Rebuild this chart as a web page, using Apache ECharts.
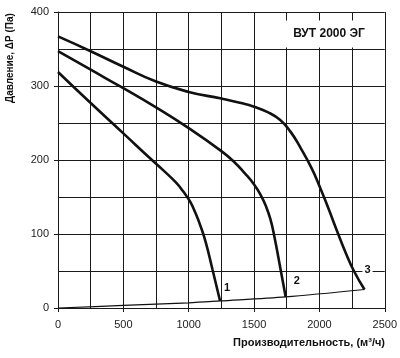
<!DOCTYPE html>
<html><head><meta charset="utf-8">
<script src="https://cdn.jsdelivr.net/npm/echarts/dist/echarts.min.js"></script>
<style>html,body{margin:0;padding:0;background:#fff}#c{width:400px;height:358px}</style>
</head><body><div id="c"></div>
<script>
const xTicks = [0, 500, 1000, 1500, 2000, 2500];
const yTicks = [0, 100, 200, 300, 400];
const xAxisTitle = 'Производительность, (м³/ч)';
const yAxisTitle = 'Давление, ΔP (Па)';
const boxTitle = 'ВУТ 2000 ЭГ';
const curveNames = ['1', '2', '3'];
const curve1 = [[0,319],[250,277],[500,236],[700,203],[800,187],[900,170],[960,157],[1010,144],[1050,129],[1090,111],[1130,89],[1182,52],[1240,9.5]];
const curve2 = [[0,347],[250,322],[500,297],[750,271],[1000,243],[1250,212],[1350,197],[1430,182],[1500,167],[1550,153],[1590,138],[1625,120],[1655,97],[1703,52],[1742,15]];
const curve3 = [[0,367],[250,347],[500,326],[750,306],[1000,292],[1250,283],[1400,277],[1500,272],[1600,265],[1700,254],[1780,238],[1860,215],[1940,189],[2000,165],[2070,134],[2137,103],[2200,75],[2264,50],[2345,25]];
const systemCurve = [[0,0],[500,3.5],[1000,7],[1240,9.5],[1742,15],[2345,25]];
const boxArea = [[1650, 352], [2497, 388.5]];

const curves = [curve1, curve2, curve3];
const labelOffsets = [[7, -13], [11, -16], [3, -20]];
const chart = echarts.init(document.getElementById('c'), null, {renderer: 'canvas'});
const font = 'Liberation Sans, Arial, sans-serif';
const lineCol = '#1a1a1a';

const series = curves.map((d, i) => ({
  type: 'line', name: curveNames[i], data: d, smooth: 0.5, symbol: 'none',
  lineStyle: {color: '#111', width: 2.6}, z: 5,
  markPoint: {
    symbol: 'circle', symbolSize: 0, silent: true,
    data: [{coord: d[d.length - 1], value: curveNames[i]}],
    label: {show: true, position: 'inside', offset: labelOffsets[i], formatter: curveNames[i],
      color: '#111', fontFamily: font, fontWeight: 'bold', fontSize: 11,
      backgroundColor: '#fff', padding: [0, 2]}
  }
}));
series.push({
  type: 'line', data: systemCurve, smooth: 0.3, symbol: 'none',
  lineStyle: {color: '#111', width: 1.2}, z: 4
});
series.push({
  type: 'line', data: [], silent: true, z: 3,
  markArea: {
    silent: true,
    itemStyle: {color: '#fff', opacity: 1},
    label: {show: true, position: 'inside', formatter: boxTitle, color: '#111',
      fontFamily: font, fontWeight: 'bold', fontSize: 12},
    data: [[{xAxis: boxArea[0][0], yAxis: boxArea[0][1]}, {xAxis: boxArea[1][0], yAxis: boxArea[1][1]}]]
  }
});

const splitStyle = {show: true, lineStyle: {color: lineCol, width: 1}};
chart.setOption({
  animation: false,
  backgroundColor: '#fff',
  grid: {left: 58, right: 15, top: 12, bottom: 50},
  xAxis: {
    type: 'value', min: 0, max: 2500, interval: 500,
    axisLine: {show: true, lineStyle: {color: lineCol, width: 1}},
    axisTick: {show: true, length: 4, lineStyle: {color: lineCol}},
    axisLabel: {color: '#222', fontFamily: font, fontSize: 11, margin: 11,
      formatter: v => xTicks.includes(v) ? String(v) : ''},
    splitLine: splitStyle,
    minorTick: {show: false, splitNumber: 2},
    minorSplitLine: {show: true, lineStyle: {color: lineCol, width: 1}}
  },
  yAxis: {
    type: 'value', min: 0, max: 400, interval: 100,
    axisLine: {show: true, lineStyle: {color: lineCol, width: 1}},
    axisTick: {show: true, length: 4, lineStyle: {color: lineCol}},
    axisLabel: {color: '#222', fontFamily: font, fontSize: 11, margin: 9,
      formatter: v => yTicks.includes(v) ? String(v) : ''},
    splitLine: splitStyle,
    minorTick: {show: false, splitNumber: 2},
    minorSplitLine: {show: true, lineStyle: {color: lineCol, width: 1}}
  },
  graphic: [
    {type: 'text', x: 10, y: 58, rotation: Math.PI / 2,
      style: {text: yAxisTitle, fill: '#111', font: 'bold 10px ' + font, textAlign: 'center', textVerticalAlign: 'middle'}},
    {type: 'text', x: 385, y: 343,
      style: {text: xAxisTitle, fill: '#111', font: 'bold 11px ' + font, textAlign: 'right', textVerticalAlign: 'middle'}}
  ],
  series: series
});
</script>
</body></html>
